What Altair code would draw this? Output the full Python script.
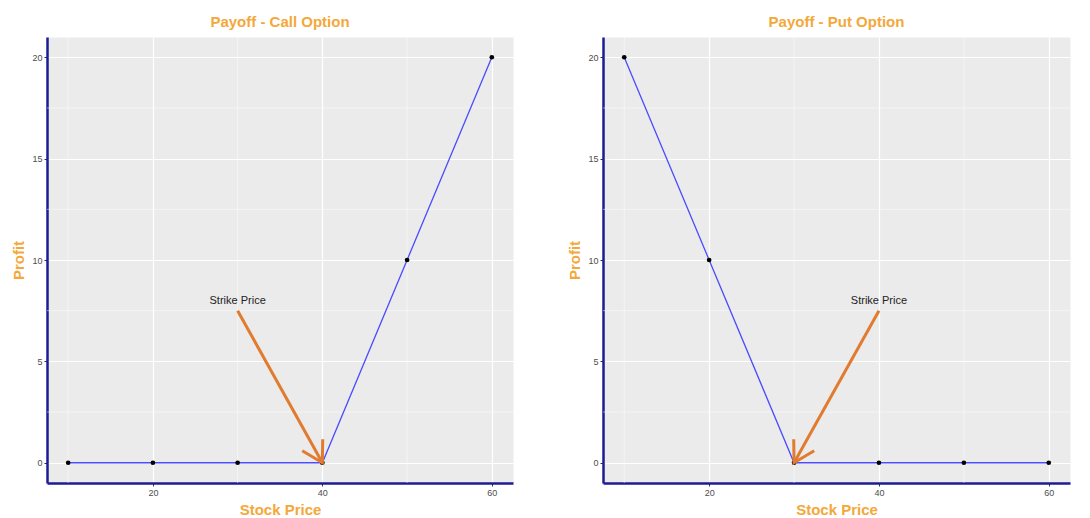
import altair as alt
import pandas as pd

# ---- data ----
stock_price = [10, 20, 30, 40, 50, 60]
call_profit = [0, 0, 0, 0, 10, 20]
put_profit = [20, 10, 0, 0, 0, 0]

x_major = [20, 40, 60]
x_minor = [10, 30, 50]
y_major = [0, 5, 10, 15, 20]
y_minor = [2.5, 7.5, 12.5, 17.5]

call_label_x, call_label_y = [30], [8]
call_arrow_x, call_arrow_y, call_arrow_x2, call_arrow_y2 = [30], [7.5], [40], [0]
put_label_x, put_label_y = [40], [8]
put_arrow_x, put_arrow_y, put_arrow_x2, put_arrow_y2 = [40], [7.5], [30], [0]
label_text = ["Strike Price"]

# ---- styles ----
FONT = "Liberation Sans"
ORANGE_TITLE = "#F4A83A"
ARROW = "#E07B2F"
NAVY = "#1C1C96"
LINE_BLUE = "#4B4BFF"
CHEVRON = "M -0.5 -0.866 L 0 0 L 0.5 -0.866"

x_scale = alt.Scale(domain=[7.5, 62.5], nice=False, zero=False)
y_scale = alt.Scale(domain=[-1, 21], nice=False, zero=False)

common_axis = dict(
    grid=True, gridColor="white", gridWidth=1.2,
    domainColor=NAVY, domainWidth=2.5,
    tickColor="#333333", tickSize=3, tickWidth=1,
    labelColor="#4D4D4D", labelFontSize=9, labelFont=FONT, labelPadding=2,
    titleColor=ORANGE_TITLE, titleFontSize=15, titleFontWeight="bold", titleFont=FONT,
)
x_axis = alt.Axis(values=x_major, title="Stock Price", titlePadding=5, **common_axis)
y_axis = alt.Axis(values=y_major, title="Profit", titlePadding=5, **common_axis)


def X(field):
    return alt.X(field, type="quantitative", scale=x_scale, axis=x_axis)


def Y(field):
    return alt.Y(field, type="quantitative", scale=y_scale, axis=y_axis)


def panel(title, profit, lx, ly, ax, ay, ax2, ay2, head_angle, width, height):
    df = pd.DataFrame({"stock": stock_price, "profit": profit})
    minor_x = alt.Chart(pd.DataFrame({"mx": x_minor})).mark_rule(
        color="white", strokeWidth=0.5).encode(x=X("mx"))
    minor_y = alt.Chart(pd.DataFrame({"my": y_minor})).mark_rule(
        color="white", strokeWidth=0.5).encode(y=Y("my"))
    line = alt.Chart(df).mark_line(color=LINE_BLUE, strokeWidth=1.3).encode(
        x=X("stock"), y=Y("profit"))
    pts = alt.Chart(df).mark_circle(color="black", size=22, opacity=1).encode(
        x=X("stock"), y=Y("profit"))
    ann = pd.DataFrame({"lx": lx, "ly": ly, "t": label_text,
                        "ax": ax, "ay": ay, "ax2": ax2, "ay2": ay2})
    text = alt.Chart(ann).mark_text(font=FONT, fontSize=11, color="#222222",
                                    baseline="middle", align="center").encode(
        x=X("lx"), y=Y("ly"), text="t:N")
    shaft = alt.Chart(ann).mark_rule(color=ARROW, strokeWidth=3).encode(
        x=X("ax"), y=Y("ay"), x2="ax2", y2="ay2")
    head = alt.Chart(ann).mark_point(shape=CHEVRON, size=2200, filled=False,
                                     stroke=ARROW, strokeWidth=3, opacity=1,
                                     angle=head_angle).encode(
        x=X("ax2"), y=Y("ay2"))
    return alt.layer(minor_x, minor_y, line, pts, text, shaft, head).properties(
        width=width, height=height,
        title=alt.Title(title, color=ORANGE_TITLE, fontSize=15, fontWeight="bold",
                        font=FONT, anchor="middle", offset=7),
    )


left = panel("Payoff - Call Option", call_profit, call_label_x, call_label_y,
             call_arrow_x, call_arrow_y, call_arrow_x2, call_arrow_y2, 330.8, 466, 446)
right = panel("Payoff - Put Option", put_profit, put_label_x, put_label_y,
              put_arrow_x, put_arrow_y, put_arrow_x2, put_arrow_y2, 29.2, 467, 446)

chart = alt.hconcat(left, right, spacing=53).properties(
    padding={"left": 11, "top": 14, "right": 0, "bottom": 0},
    background="white",
).configure_view(fill="#EBEBEB", stroke="transparent")

chart.save("out.html", embed_options={"renderer": "svg", "actions": False})
